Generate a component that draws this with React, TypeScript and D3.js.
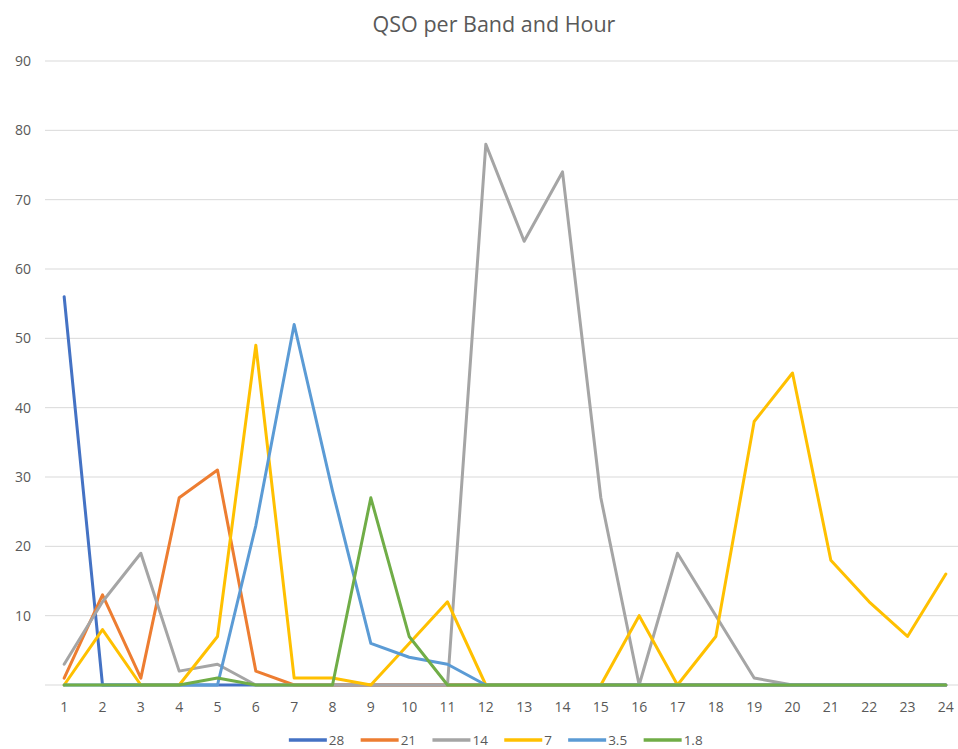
import React from "react";
import * as d3 from "d3";

const hours = d3.range(1, 25).map(String);
const yTicks = [10, 20, 30, 40, 50, 60, 70, 80, 90];
const bandNames = ["28", "21", "14", "7", "3.5", "1.8"];
const colors = ["#4472C4", "#ED7D31", "#A5A5A5", "#FFC000", "#5B9BD5", "#70AD47"];

const s28 = [56, 0, 0, 0, 0, 0, 0, 0, 0, 0, 0, 0, 0, 0, 0, 0, 0, 0, 0, 0, 0, 0, 0, 0];
const s21 = [1, 13, 1, 27, 31, 2, 0, 0, 0, 0, 0, 0, 0, 0, 0, 0, 0, 0, 0, 0, 0, 0, 0, 0];
const s14 = [3, 12, 19, 2, 3, 0, 0, 0, 0, 0, 0, 78, 64, 74, 27, 0, 19, 10, 1, 0, 0, 0, 0, 0];
const s7 = [0, 8, 0, 0, 7, 49, 1, 1, 0, 6, 12, 0, 0, 0, 0, 10, 0, 7, 38, 45, 18, 12, 7, 16];
const s35 = [0, 0, 0, 0, 0, 23, 52, 28, 6, 4, 3, 0, 0, 0, 0, 0, 0, 0, 0, 0, 0, 0, 0, 0];
const s18 = [0, 0, 0, 0, 1, 0, 0, 0, 27, 7, 0, 0, 0, 0, 0, 0, 0, 0, 0, 0, 0, 0, 0, 0];
const series = [s28, s21, s14, s7, s35, s18];

const W = 958;
const H = 749;
const left = 45;
const right = 965;
const top = 61;
const bottom = 685;
const font = "'Open Sans', 'Noto Sans', sans-serif";
const textColor = "#595959";

export default function App() {
  const x = d3.scalePoint<string>().domain(hours).range([left, right]).padding(0.5);
  const y = d3.scaleLinear().domain([0, 90]).range([bottom, top]);
  const line = d3
    .line<number>()
    .x((_, i) => x(hours[i]) as number)
    .y((d) => y(d));

  // legend layout
  const lineLen = 38;
  const gapLT = 2;
  const itemGap = 16;
  const charW = (s: string) => d3.sum(s.split(""), (c) => (c === "." ? 3.7 : 7.9));
  const widths = bandNames.map((n) => lineLen + gapLT + charW(n));
  const total = d3.sum(widths) + itemGap * (bandNames.length - 1);
  let lx = 496 - total / 2;
  const legendItems = bandNames.map((n, i) => {
    const item = { name: n, x: lx, color: colors[i] };
    lx += widths[i] + itemGap;
    return item;
  });
  const legendY = 740;

  return (
    <svg width={W} height={H} style={{ position: "absolute", left: 0, top: 0, background: "#fff" }}>
      <rect x={0} y={0} width={W} height={H} fill="#fff" />
      <text x={494} y={32} textAnchor="middle" fontFamily={font} fontSize={21.5} fill={textColor}>
        QSO per Band and Hour
      </text>
      {yTicks.map((t) => (
        <g key={t}>
          <line x1={left} x2={right} y1={y(t)} y2={y(t)} stroke="#D9D9D9" strokeWidth={1} />
          <text x={31} y={y(t) + 5} textAnchor="end" fontFamily={font} fontSize={14} fill={textColor}>
            {t}
          </text>
        </g>
      ))}
      <line x1={left} x2={right} y1={y(0)} y2={y(0)} stroke="#D9D9D9" strokeWidth={1} />
      {hours.map((h) => (
        <text
          key={h}
          x={x(h) as number}
          y={712}
          textAnchor="middle"
          fontFamily={font}
          fontSize={14}
          fill={textColor}
        >
          {h}
        </text>
      ))}
      {series.map((s, i) => (
        <path
          key={bandNames[i]}
          d={line(s) || ""}
          fill="none"
          stroke={colors[i]}
          strokeWidth={3}
          strokeLinejoin="round"
          strokeLinecap="round"
        />
      ))}
      {legendItems.map((it) => (
        <g key={it.name}>
          <line x1={it.x} x2={it.x + lineLen} y1={legendY} y2={legendY} stroke={it.color} strokeWidth={3.5} />
          <text x={it.x + lineLen + gapLT} y={legendY + 4.5} fontFamily={font} fontSize={13.5} fill={textColor}>
            {it.name}
          </text>
        </g>
      ))}
    </svg>
  );
}
